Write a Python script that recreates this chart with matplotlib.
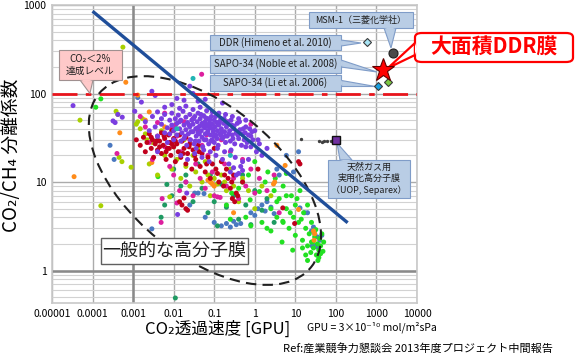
import matplotlib
matplotlib.use("Agg")
import matplotlib.pyplot as plt
from matplotlib.patches import Polygon, FancyBboxPatch, Ellipse
from matplotlib.transforms import ScaledTranslation

plt.rcParams['font.family'] = ['Liberation Sans Narrow', 'Noto Sans CJK JP', 'DejaVu Sans']

# ---------------- data ----------------
x_ticks = [1e-5, 1e-4, 1e-3, 1e-2, 1e-1, 1, 10, 100, 1000, 10000]
x_tick_labels = ['0.00001', '0.0001', '0.001', '0.01', '0.1', '1', '10', '100', '1000', '10000']
y_ticks = [1, 10, 100, 1000]
y_tick_labels = ['1', '10', '100', '1000']

target_level = 100            # CO2 < 2% level
bound_x = [1e-4, 195]         # upper bound line
bound_y = [850, 3.47]

purple_pts = [
    (0.002,48),(0.0025,38),(0.003,55),(0.0035,42),(0.004,33),(0.004,62),(0.005,45),(0.005,52),(0.006,36),(0.006,58),
    (0.007,41),(0.007,28),(0.008,50),(0.008,35),(0.009,44),(0.009,60),(0.01,38),(0.01,30),(0.011,52),(0.012,46),
    (0.012,34),(0.013,57),(0.014,40),(0.015,29),(0.015,50),(0.016,36),(0.017,63),(0.018,44),(0.018,31),(0.02,54),
    (0.02,39),(0.021,26),(0.022,47),(0.023,35),(0.025,58),(0.025,42),(0.026,30),(0.028,50),(0.03,37),(0.03,45),
    (0.032,27),(0.033,55),(0.035,40),(0.036,33),(0.038,48),(0.04,60),(0.04,36),(0.042,29),(0.044,43),(0.045,52),
    (0.048,38),(0.05,32),(0.05,46),(0.052,25),(0.055,56),(0.058,41),(0.06,35),(0.06,48),(0.063,30),(0.066,44),
    (0.07,52),(0.07,38),(0.073,27),(0.076,46),(0.08,34),(0.08,41),(0.085,55),(0.088,30),(0.09,45),(0.095,37),
    (0.1,50),(0.1,28),(0.105,42),(0.11,34),(0.115,47),(0.12,38),(0.125,26),(0.13,44),(0.14,35),(0.145,52),
    (0.15,40),(0.16,31),(0.17,46),(0.18,37),(0.19,28),(0.2,42),(0.21,33),(0.22,48),(0.24,38),(0.25,29),
    (0.27,44),(0.28,34),(0.3,40),(0.32,27),(0.35,36),(0.37,46),(0.4,31),(0.43,39),(0.47,26),(0.5,35),
    (0.55,30),(0.6,42),(0.65,28),(0.7,34),(0.8,25),(0.9,30),(1.0,38),(1.1,22),(1.3,27),(1.5,20),
    (0.006,70),(0.009,75),(0.014,68),(0.02,72),(0.03,66),(0.045,70),(0.065,64),(0.09,62),(0.13,60),(0.19,58),
    (0.28,55),(0.4,52),(0.6,50),(0.015,20),(0.022,18),(0.033,21),(0.05,19),(0.075,17),(0.11,20),(0.16,18),
    (0.23,16),(0.33,19),(0.5,17),(0.7,18),(0.0016,80),(0.0029,106),(0.0011,63),(0.0035,95),(3.3e-5,73),
    (3.2e-4,49),(3.6e-4,47),(4.2e-4,58),(5.4e-4,54),(0.004,22),(0.0125,4.3),(0.021,7.5),(0.25,13),(0.3,14.5),
    (0.4,12.5),(0.45,15),(0.35,12),(0.5,13.5),(0.012,88),(0.018,84),(0.025,121),(0.04,82),(0.06,86),(0.16,78),
    (0.145,33.6),(0.6,25),(0.8,33),(1.2,30),(2.0,24),(0.22,125),(0.03,100),
    (0.011,40),(0.014,48),(0.019,33),(0.024,44),(0.027,37),(0.031,52),(0.034,29),(0.039,41),(0.043,35),
    (0.047,58),(0.054,43),(0.057,30),(0.062,53),(0.068,36),(0.074,42),(0.078,50),(0.083,29),(0.093,40),
    (0.098,33),(0.108,55),(0.118,31),(0.135,48),(0.155,37),(0.175,52),(0.185,33),(0.205,45),(0.23,35),
    (0.26,50),(0.29,31),(0.31,43),(0.38,34),(0.42,48),(0.52,40),(0.58,36),(0.75,40),(0.85,37),(0.036,24),
    (0.055,23),(0.08,22),(0.12,24),(0.18,22),(0.26,23),
]
red_pts = [
    (0.0012,30),(0.0015,26),(0.0018,32),(0.002,22),(0.0022,28),(0.0025,35),(0.0028,24),(0.003,30),(0.0032,19),
    (0.0035,27),(0.004,33),(0.004,23),(0.0045,29),(0.005,21),(0.005,36),(0.0055,26),(0.006,31),(0.0065,18),
    (0.007,24),(0.0075,34),(0.008,28),(0.0085,20),(0.009,38),(0.01,25),(0.01,31),(0.011,17),(0.012,27),
    (0.013,22),(0.014,34),(0.015,19),(0.016,29),(0.018,24),(0.02,16),(0.02,32),(0.022,21),(0.025,27),
    (0.028,14),(0.03,23),(0.035,18),(0.04,26),(0.045,15),(0.05,21),(0.06,13),(0.07,19),(0.08,11),(0.09,16),
    (0.1,24),(0.12,12.5),(0.13,10),(0.15,17),(0.17,9),(0.2,14),(0.22,11),(0.25,8.5),(0.3,12),(0.35,7.5),
    (0.28,6.5),(0.32,6),(0.38,7),(0.014,6),(0.016,5.5),(0.018,6.6),(0.02,5),(0.022,4.8),(0.5,10),(1.2,14),
    (12,17),(13,16),(4.9,5.1),(9.6,3.4),(0.0045,25),(0.0065,22),(0.009,27),(0.0028,32),
    (0.0038,29),(0.0058,33),(0.0078,24),(0.011,29),(0.017,21),(0.024,25),(0.033,20),(0.042,22),(0.065,16),
    (0.11,14),(0.18,12),(0.27,10),
]
magenta_pts = [
    (4e-4,21),(0.0015,55),(0.002,42),(0.0025,28),(0.003,18),(0.004,47),(0.0052,6.5),(0.0049,3.5),(0.006,25),
    (0.008,15),(0.009,40),(0.01,12),(0.012,33),(0.014,8),(0.015,22),(0.018,48),(0.02,10),(0.025,30),(0.03,7),
    (0.035,16),(0.04,38),(0.045,11),(0.05,26),(0.06,8.5),(0.07,20),(0.08,44),(0.09,13),(0.1,7),(0.12,6.8),
    (0.14,6.7),(0.15,30),(0.18,16),(0.2,9),(0.25,22),(0.3,11),(0.35,36),(0.4,6.5),(0.5,18),(0.6,9),(0.8,14),
    (1.0,7.5),(1.3,11),(2,8),(0.47,111),(0.049,165),(3,12),(4,4.5),(0.8,45),(0.012,5.8),(0.006,60),(0.03,52),
    (0.011,44),(0.065,34),(0.2,48),
]
yellowgreen_pts = [
    (5.6e-4,334),(4.9e-5,50),(1.6e-4,5.4),(5.3e-4,17),(4.5e-4,19),(8.9e-4,14.7),(3.8e-4,63),(4.2e-4,58),
    (0.0012,45),(0.0015,40),(0.002,35),(0.0025,16),(0.003,28),(0.004,12),(0.005,38),(0.006,20),(0.008,6.8),
    (0.009,14),(0.01,25),(0.012,18),(0.015,11),(0.018,30),(0.02,15),(0.025,9),(0.03,20),(0.035,13),(0.04,24),
    (0.05,10),(0.06,17),(0.07,12),(0.08,7),(0.1,11),(0.12,9.5),(0.15,12),(0.18,10),(0.2,8),(0.25,14),(0.3,9),
    (0.4,6),(0.5,11),(0.7,8),(1.0,5),(1.5,9),(2.5,7),(0.0013,48),(0.0017,52),(0.0022,30),
]
green_pts = [
    (1.2e-4,70),(1.6e-4,87),(0.0041,11.5),(0.27,7.5),(0.5,10),(0.77,6.3),(1.0,17),(1.3,7.8),(2.1,13),(1.8,10),
    (2.5,5),(3,8),(3.5,4),(4,6.5),(5,3.5),(5,9),(6,5),(7,3),(8,7),(9,4),(10,2.5),(10,5.5),(12,3.5),(13,8),
    (15,2.2),(16,4.5),(18,3),(20,1.9),(20,5.5),(22,2.6),(25,2.1),(25,3.5),(28,1.8),(30,2.4),(32,2.9),(35,2.0),
    (38,1.7),(40,2.3),(42,1.9),(45,2.6),(48,1.65),(50,2.1),(0.6,4),(0.8,3.2),(1.5,3.5),(2,3),(2.5,2.8),(3.5,6),
    (6,7),(7.5,4.5),(11,6.5),(14,3.8),(0.2,5.5),(0.25,3.8),(0.4,8.5),(0.7,12),(4.9,3.6),(4.7,2.1),(8.6,1.7),
    (27,2.1),(15,1.8),(38,1.4),(36,1.3),(20,1.3),(18,1.5),(24,1.6),(33,1.5),(42,1.55),(3.2,11),(6,12.5),
]
teal_pts = [
    (0.011,0.49),(0.0049,4),(0.0068,9.4),(0.01,14),(0.015,9),(0.02,12),(0.03,6),(0.04,16),(0.05,8.5),
    (0.07,4.5),(0.08,12),(0.1,6),(0.12,3.2),(0.15,9.5),(0.2,5.2),(0.3,7),(0.4,3.8),(0.5,12),(0.6,5.5),
    (0.8,3.3),(1.0,8),(1.5,4.8),(2,6.5),(3,3.5),(0.006,5.5),(0.009,7),
]
cyan_pts = [(0.03,148),(0.012,40),(0.25,20)]
blue_pts = [
    (2.7e-4,26),(3.4e-4,18),(0.0029,2.96),(0.0013,90),(0.004,30),(0.02,10),(0.025,5.5),(0.033,7.5),(0.04,7.5),
    (0.056,7.4),(0.06,4),(0.1,3.5),(0.15,3.2),(0.2,3.4),(0.25,3.1),(0.3,3.6),(0.35,3.3),(0.45,3.4),(0.8,4.5),
    (1.0,4.2),(1.2,5),(1.5,5.5),(1.8,4.7),(2,6),(2.5,5.2),(3,4.4),(3.5,14),(4,12),(6,20),(9,13),(12,22),
    (25,2.8),(30,2.6),(35,2.4),(40,2.2),(28,3.1),(45,2.5),(13,5.1),(17,4.5),(20,4.5),(26,1.9),(30,1.9),(34,1.85),
]
orange_pts = [
    (3.5e-5,11.5),(4.7e-4,36),(6.6e-4,134),(0.0013,96),(0.0029,16.6),(0.002,50),(0.0025,62),(0.006,42),
    (0.01,30),(0.08,10),(0.09,9.5),(0.07,10.5),(0.1,9),(0.085,9.8),(2.9,9.5),(3.5,26),(5.6,15.4),(3.1,10),
    (30,2.6),(29,2.2),(28,2.8),(12,4.9),(0.3,4.5),
]
gray_pts = [(14,31),(38,29),(45,28.5),(52,29),(62,29),(75,29)]

# special membranes
ddr_x, ddr_y = [575], [380]
noble_x, noble_y = [1900], [134]
li_x, li_y = [1120], [121]
msm_x, msm_y = [2500], [285]
star_x, star_y = [1420], [183]
separex_x, separex_y = [99], [30]

# ---------------- figure ----------------
W, H = 575, 356
fig = plt.figure(figsize=(W / 100, H / 100), dpi=100)
ax = fig.add_axes([52 / W, 1 - 303 / H, 365 / W, 298 / H])
ax.set_xscale('log')
ax.set_yscale('log')
ax.set_xlim(1e-5, 1e4)
ax.set_ylim(0.43, 1000)

ax.grid(True, which='minor', color='#d2d2d2', lw=0.8)
ax.grid(True, which='major', color='#ababab', lw=1.0)
ax.axvline(1e-3, color='#8a8a8a', lw=1.8, zorder=1)
ax.axhline(1, color='#8a8a8a', lw=1.8, zorder=1)
ax.set_axisbelow(True)
for s in ax.spines.values():
    s.set_color('#c8c8c8')
    s.set_linewidth(1.2)

ax.set_xticks(x_ticks)
ax.set_xticklabels(x_tick_labels)
ax.set_yticks(y_ticks)
ax.set_yticklabels(y_tick_labels)
ax.tick_params(which='both', length=0, labelsize=7.5, pad=4)

# scatter groups
groups = [
    (blue_pts, '#4a78c0'), (teal_pts, '#1e9a62'), (green_pts, '#22e022'), (yellowgreen_pts, '#a8d000'),
    (orange_pts, '#ff8c1a'), (magenta_pts, '#dd1f9e'), (red_pts, '#c0001c'), (purple_pts, '#7a3ee0'),
    (cyan_pts, '#22b4b4'),
]
for pts, col in groups:
    xs = [p[0] for p in pts]
    ys = [p[1] for p in pts]
    ax.scatter(xs, ys, s=13, color=col, edgecolors='none', zorder=3)
ax.scatter([p[0] for p in gray_pts], [p[1] for p in gray_pts], s=2, color='#404040', zorder=3)

# target line and upper bound
ax.axhline(target_level, color='#e8141c', lw=2.0, linestyle=(0, (9, 3, 2, 3)), zorder=4)
ax.plot(bound_x, bound_y, color='#1f4e9a', lw=2.4, zorder=5, solid_capstyle='butt')

# dashed region of ordinary polymer membranes
ell_tr = fig.dpi_scale_trans + ScaledTranslation(0.059, 10.4, ax.transData)
ax.add_patch(Ellipse((0, 0), 2.74, 1.50, angle=-39.3, transform=ell_tr, fill=False,
                     ec='#202020', lw=1.5, linestyle=(0, (5, 3)), zorder=4, clip_on=False))

# special markers
ax.plot(ddr_x, ddr_y, 'D', ms=4.5, mfc='#a8e4f4', mec='#3a3a3a', mew=0.8, zorder=12, clip_on=False)
ax.plot(noble_x, noble_y, 'D', ms=4.5, mfc='#7cc840', mec='#3a3a3a', mew=0.8, zorder=12, clip_on=False)
ax.plot(li_x, li_y, 'D', ms=4.5, mfc='#1aa0e0', mec='#3a3a3a', mew=0.8, zorder=12, clip_on=False)
ax.plot(msm_x, msm_y, 'o', ms=6.5, mfc='#4a4a4a', mec='#202020', mew=0.8, zorder=12, clip_on=False)
ax.plot(star_x, star_y, '*', ms=17, mfc='#ff0000', mec='#600000', mew=0.8, zorder=13, clip_on=False)
ax.plot(separex_x, separex_y, 's', ms=5.5, mfc='#7030a0', mec='#101010', mew=1.0, zorder=12, clip_on=False)

# ---------------- callouts ----------------
def P(x, y):
    return (x / W, 1 - y / H)

to_fig = ax.transData + fig.transFigure.inverted()

def data_pt(x, y):
    return tuple(to_fig.transform((x, y)))

def bubble(x0, y0, x1, y1, base, tip, fc, ec, text, fs, color='#202020', weight='normal',
           lw=0.8, rounding=0.0, ls=1.25):
    if base is not None:
        ax.add_patch(Polygon([P(*base[0]), P(*base[1]), tip], closed=True, transform=fig.transFigure,
                             fc=fc, ec=ec, lw=lw, zorder=9, clip_on=False))
    bx, by = P(x0, y1)
    bw, bh = (x1 - x0) / W, (y1 - y0) / H
    style = 'round,pad=0,rounding_size=%g' % rounding if rounding else 'square,pad=0'
    ax.add_patch(FancyBboxPatch((bx, by), bw, bh, boxstyle=style, transform=fig.transFigure,
                                fc=fc, ec=ec, lw=lw, zorder=10, clip_on=False))
    if base is not None:
        # hide the box edge at the wedge base
        ax.add_patch(Polygon([P(base[0][0], base[0][1]), P(base[1][0], base[1][1]),
                              P((base[0][0] + base[1][0]) / 2 + (2 if base[0][0] == base[1][0] else 0),
                                (base[0][1] + base[1][1]) / 2 + (0 if base[0][0] == base[1][0] else 2))],
                             closed=True, transform=fig.transFigure, fc=fc, ec='none', zorder=10.5,
                             clip_on=False))
    cx, cy = P((x0 + x1) / 2, (y0 + y1) / 2)
    ax.text(cx, cy, text, transform=fig.transFigure, ha='center', va='center', fontsize=fs,
            color=color, fontweight=weight, zorder=11, clip_on=False, linespacing=ls)

blue_fc, blue_ec = '#b9cde5', '#7f9cc8'
bubble(59, 50, 122, 80, [(80, 80), (93, 80)], data_pt(8.6e-5, 100), '#ffc9c9', '#a09090',
       'CO₂＜2%\n達成レベル', 7)
bubble(210, 35, 341, 50, [(341, 40), (341, 46)], P(361, 43), blue_fc, blue_ec,
       'DDR (Himeno et al. 2010)', 7)
bubble(210, 55, 341, 73, [(341, 60), (341, 67)], P(377, 72), blue_fc, blue_ec,
       'SAPO-34 (Noble et al. 2008)', 7)
bubble(210, 75, 341, 91, [(341, 80), (341, 86)], P(375, 86), blue_fc, blue_ec,
       'SAPO-34 (Li et al. 2006)', 7)
bubble(309, 12, 413, 28, [(384, 28), (396, 28)], P(391, 48), blue_fc, blue_ec,
       'MSM-1（三菱化学社）', 6.5)
bubble(415, 33, 573, 62, [(415, 43), (415, 55)], P(388, 68), 'white', '#ff0000',
       '大面積DDR膜', 15, color='#ff0000', weight='bold', lw=1.6, rounding=0.012)
bubble(328, 160, 410, 198, [(340, 160), (352, 160)], P(337, 143), blue_fc, blue_ec,
       '天然ガス用\n実用化高分子膜\n（UOP, Separex）', 6.5)
bubble(101, 238, 248, 264, None, None, 'white', '#606060',
       '一般的な高分子膜', 13, lw=1.0)

# ---------------- axis labels & notes ----------------
fig.text(12 / W, 1 - 155 / H, 'CO₂/CH₄ 分離係数', rotation=90, ha='center', va='center', fontsize=13.5)
fig.text(218 / W, 1 - 329 / H, 'CO₂透過速度 [GPU]', ha='center', va='center', fontsize=12)
fig.text(307 / W, 1 - 327 / H, 'GPU = 3×10⁻¹⁰ mol/m²sPa', ha='left', va='center', fontsize=7.5)
fig.text(283 / W, 1 - 348 / H, 'Ref:産業競争力懇談会 2013年度プロジェクト中間報告', ha='left', va='center',
         fontsize=8)

fig.savefig('out.png', dpi=100)
